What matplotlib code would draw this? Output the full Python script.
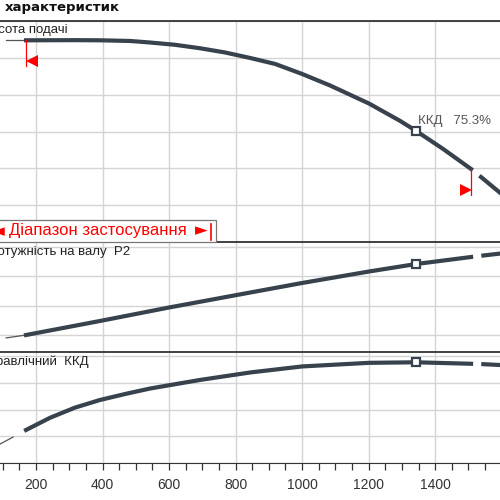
import matplotlib.pyplot as plt
from matplotlib.patches import Rectangle
from matplotlib.ticker import MultipleLocator

plt.rcParams['font.family'] = ['Liberation Sans', 'DejaVu Sans']

# flow values (x axis)
q_head = [170, 317, 392, 483, 543, 618, 693, 768, 844, 919, 1000, 1084, 1201, 1295, 1343, 1424, 1508]
head = [27.38, 27.40, 27.38, 27.29, 27.08, 26.77, 26.30, 25.73, 24.98, 24.17, 22.81, 21.25,
        18.80, 16.43, 15.07, 12.63, 9.91]
q_head_pre = [110, 170]
head_pre = [27.4, 27.4]
q_head_ext = [1538, 1600]
head_ext = [8.82, 6.5]

q_pow = [170, 392, 600, 844, 1000, 1201, 1343, 1508]
power = [40.0, 44.78, 49.39, 54.5, 57.75, 61.67, 64.23, 66.62]
q_pow_pre = [110, 170]
power_pre = [39.0, 40.0]
q_pow_ext = [1545, 1600]
power_ext = [67.13, 67.85]

q_eff = [170, 242, 317, 392, 468, 543, 693, 844, 1000, 1201, 1343, 1508]
eff = [24.7, 33.8, 41.4, 47.1, 51.6, 55.7, 62.1, 67.7, 72.2, 74.9, 75.3, 74.2]
q_eff_pre = [92, 131]
eff_pre = [14.2, 19.4]
q_eff_ext = [1545, 1600]
eff_ext = [73.9, 73.2]

q_bep = 1343
q_min, q_max = 170, 1508
bep_label = 'ККД   75.3%'

curve_col = '#37424d'
grid_col = '#d4d4d4'

fig = plt.figure(figsize=(5, 5), dpi=100)

def px(x):
    return x / 500

def py(y):
    return 1 - y / 500

ax1 = fig.add_axes([0, py(242), 1, px(221)])
ax2 = fig.add_axes([0, py(353), 1, px(111)])
ax3 = fig.add_axes([0, py(463), 1, px(111)])

for ax in (ax1, ax2, ax3):
    ax.set_xlim(91.7, 1595)
    ax.xaxis.set_major_locator(MultipleLocator(200))
    ax.xaxis.set_minor_locator(MultipleLocator(50))
    ax.grid(True, which='major', color=grid_col, lw=1)
    ax.set_axisbelow(True)
    for s in ('left', 'right'):
        ax.spines[s].set_visible(False)
    ax.spines['top'].set_color('#333333')
    ax.spines['top'].set_linewidth(1.3)
    ax.spines['bottom'].set_color('#333333')
    ax.tick_params(axis='y', left=False, labelleft=False)

for ax in (ax1, ax2):
    ax.tick_params(axis='x', which='both', bottom=False, labelbottom=False)
    ax.spines['bottom'].set_visible(False)

ax3.tick_params(axis='x', which='both', direction='out', length=5, width=0.9,
                color='#333333', labelsize=10, labelcolor='#333333', pad=6)

# head
ax1.set_ylim(0, 30)
ax1.yaxis.set_major_locator(MultipleLocator(5))
ax1.plot(q_head_pre, head_pre, color='#555555', lw=0.9)
ax1.plot(q_head, head, color=curve_col, lw=3)
ax1.plot(q_head_ext, head_ext, color=curve_col, lw=3)
i = q_head.index(q_bep)
ax1.plot(q_bep, head[i], marker='s', ms=6, mfc='white', mec=curve_col, mew=1.6)
ax1.text(q_bep + 5, head[i] + 1.3, bep_label, fontsize=9.5, color='#555555', va='center')

# application range marks
ax1.plot([q_min, q_min], [head[0], 23.9], color='red', lw=0.9)
ax1.plot(q_min + 17, 24.6, marker='<', ms=8, color='red', mew=0)
ax1.plot([q_max, q_max], [head[-1], 6.4], color='red', lw=0.9)
ax1.plot(q_max - 16, 7.1, marker='>', ms=8, color='red', mew=0)

# power
ax2.set_ylim(33.86, 71.74)
ax2.yaxis.set_major_locator(MultipleLocator(10))
ax2.plot(q_pow_pre, power_pre, color='#555555', lw=0.9)
ax2.plot(q_pow, power, color=curve_col, lw=3)
ax2.plot(q_pow_ext, power_ext, color=curve_col, lw=3)
i = q_pow.index(q_bep)
ax2.plot(q_bep, power[i], marker='s', ms=6, mfc='white', mec=curve_col, mew=1.6)

# efficiency
ax3.set_ylim(0, 83)
ax3.yaxis.set_major_locator(MultipleLocator(20))
ax3.plot(q_eff_pre, eff_pre, color='#555555', lw=0.9)
ax3.plot(q_eff, eff, color=curve_col, lw=3)
ax3.plot(q_eff_ext, eff_ext, color=curve_col, lw=3)
i = q_eff.index(q_bep)
ax3.plot(q_bep, eff[i], marker='s', ms=6, mfc='white', mec=curve_col, mew=1.6)

# panel labels (cut at the left edge like the source)
fig.text(px(68), py(30), 'Висота подачі', ha='right', va='center', fontsize=9.5, color='#222222')
fig.text(px(130), py(252), 'Потужність на валу  P2', ha='right', va='center', fontsize=9.5, color='#222222')
fig.text(px(89), py(362), 'Гідравлічний  ККД', ha='right', va='center', fontsize=9.5, color='#222222')

fig.text(px(5), py(8), 'характеристик', ha='left', va='center', fontsize=9.5,
         fontweight='bold', family='DejaVu Sans', color='#111111')

# range box
fig.add_artist(Rectangle((px(-5), py(242)), px(221), px(22), transform=fig.transFigure,
                         facecolor='white', edgecolor='#777777', lw=0.9, zorder=5))
fig.text(px(-2), py(231), '◄', ha='center', va='center', fontsize=12, color='red',
         family='DejaVu Sans', zorder=6)
fig.text(px(9), py(231), 'Діапазон застосування', ha='left', va='center', fontsize=12,
         color='red', zorder=6)
fig.text(px(201), py(230), '►', ha='center', va='center', fontsize=12, color='red',
         family='DejaVu Sans', zorder=6)
fig.add_artist(plt.Line2D([px(211), px(211)], [py(224), py(240)], transform=fig.transFigure,
                          color='red', lw=1.2, zorder=6))

fig.savefig('out.png', dpi=100)
